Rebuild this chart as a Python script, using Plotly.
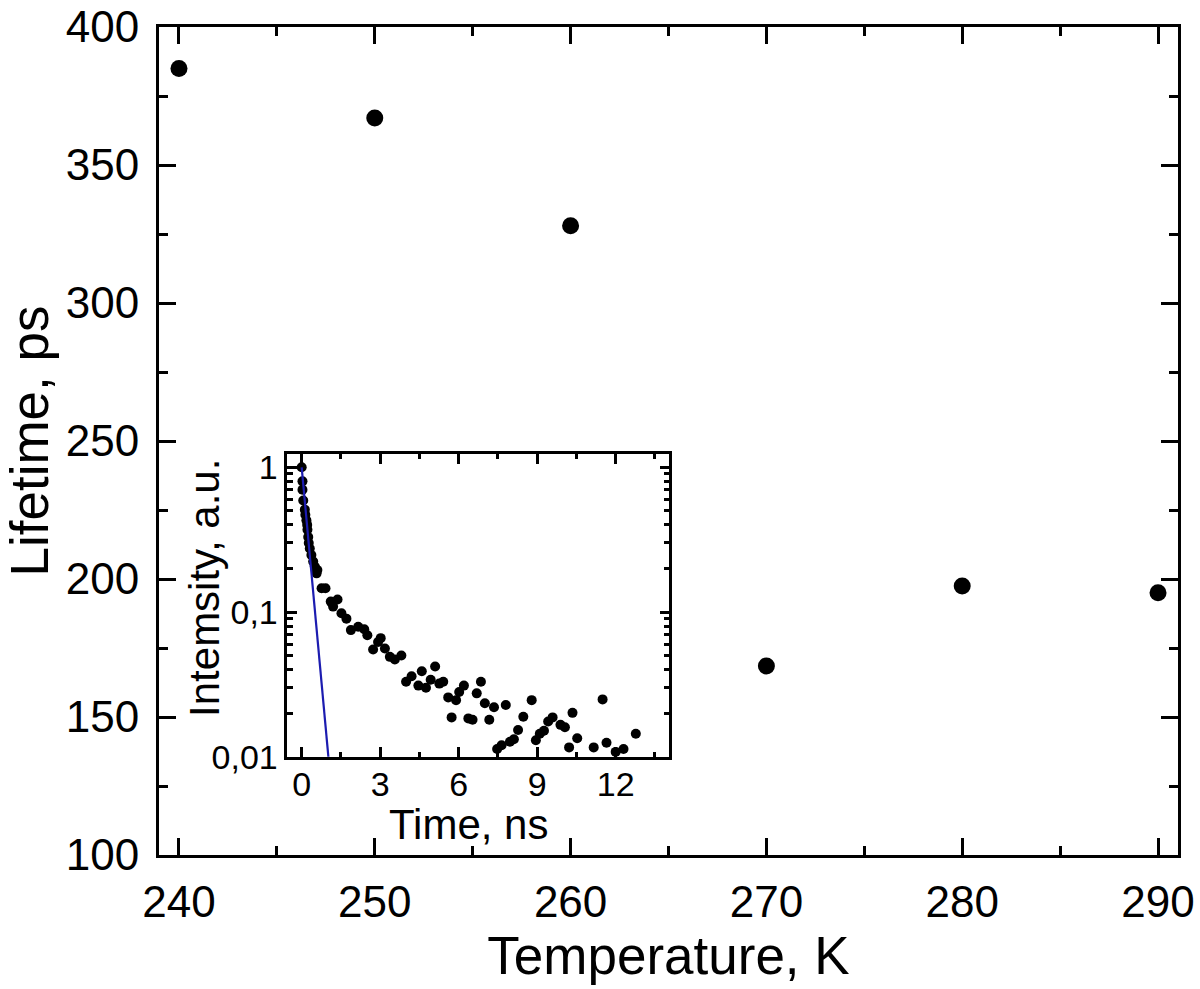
import numpy as np
import plotly.graph_objects as go

# Main data
temperature_K = [240, 250, 260, 270, 280, 290]
lifetime_ps = [385, 367, 328, 168.5, 197.5, 195]

# Inset: decay data
time_ns = [0.0, 0.03, 0.03, 0.06, 0.12, 0.14, 0.18, 0.21, 0.22, 0.25, 0.27, 0.31, 0.37, 0.44, 0.50, 0.60,
           0.57, 0.76, 0.91, 1.11, 1.20, 1.37, 1.52, 1.71, 1.88, 2.16, 2.39, 2.51, 2.73, 2.92, 3.02,
           3.18, 3.37, 3.56, 3.81, 3.99, 4.20, 4.46, 4.59, 4.75, 4.93, 5.10, 5.26, 5.41, 5.60, 5.73,
           5.90, 6.02, 6.20, 6.37, 6.53, 6.69, 6.85, 7.00, 7.17, 7.35, 7.47, 7.64, 7.80, 7.96, 8.11,
           8.27, 8.47, 8.79, 8.95, 9.10, 9.26, 9.42, 9.59, 9.89, 10.06, 10.22, 10.35, 10.53, 11.16,
           11.50, 11.65, 12.00, 12.30, 12.77]
intensity = [1.0, 0.80, 0.70, 0.59, 0.51, 0.47, 0.43, 0.40, 0.37, 0.33, 0.30, 0.275, 0.248, 0.223, 0.206, 0.195,
             0.185, 0.146, 0.146, 0.118, 0.109, 0.122, 0.098, 0.090, 0.075, 0.079, 0.076, 0.069, 0.055, 0.062, 0.066,
             0.056, 0.049, 0.047, 0.050, 0.033, 0.036, 0.031, 0.039, 0.030, 0.034, 0.042, 0.032, 0.033, 0.0257, 0.0187,
             0.0246, 0.028, 0.031, 0.0184, 0.018, 0.0274, 0.033, 0.0234, 0.018, 0.022, 0.0113, 0.012, 0.0228, 0.0127, 0.0132,
             0.0153, 0.0189, 0.0246, 0.013, 0.0144, 0.0151, 0.0175, 0.0187, 0.0166, 0.016, 0.0116, 0.0201, 0.0134, 0.0116,
             0.0249, 0.0125, 0.0108, 0.0113, 0.0144]

# Inset: mono-exponential fit parameters
fit_tau_ns = 0.2215
fit_amp = 1.0
fit_t = np.linspace(0, 1.2, 50)
fit_I = fit_amp * np.exp(-fit_t / fit_tau_ns)

FONT = "Liberation Sans, Arial, sans-serif"

fig = go.Figure()
fig.add_trace(go.Scatter(x=temperature_K, y=lifetime_ps, mode="markers",
                         marker=dict(color="black", size=17), xaxis="x", yaxis="y", showlegend=False))
fig.add_trace(go.Scatter(x=time_ns, y=intensity, mode="markers",
                         marker=dict(color="black", size=10), xaxis="x2", yaxis="y2", showlegend=False))
fig.add_trace(go.Scatter(x=fit_t, y=fit_I, mode="lines",
                         line=dict(color="#1c1cb0", width=2.2), xaxis="x2", yaxis="y2", showlegend=False))

main_axis = dict(showline=True, linecolor="black", linewidth=3, mirror="allticks", ticks="inside",
                 ticklen=17, tickwidth=3, tickcolor="black", showgrid=False, zeroline=False,
                 automargin=False,
                 tickfont=dict(family=FONT, size=44, color="black"))

fig.update_layout(
    width=1200, height=989,
    margin=dict(l=159, r=22, t=27, b=134, autoexpand=False),
    paper_bgcolor="white", plot_bgcolor="white",
    xaxis=dict(main_axis, range=[238.98, 291.02], tickvals=[240, 250, 260, 270, 280, 290],
               minor=dict(ticks="inside", ticklen=9, tickwidth=3, dtick=5, tickcolor="black"),
               ticklabelstandoff=6,
               title=dict(text="Temperature, K", font=dict(family=FONT, size=53, color="black"), standoff=0)),
    yaxis=dict(main_axis, range=[100, 400], tickvals=[100, 150, 200, 250, 300, 350, 400],
               minor=dict(ticks="inside", ticklen=9, tickwidth=3, dtick=25, tickcolor="black"),
               ticklabelstandoff=8,
               title=dict(text="Lifetime, ps", font=dict(family=FONT, size=53, color="black"), standoff=4)),
    xaxis2=dict(domain=[0.1259, 0.5008], anchor="y2", range=[-0.55, 14.05],
                tickvals=[0, 3, 6, 9, 12], showline=True, linecolor="black", linewidth=2.5,
                mirror="allticks", ticks="inside", ticklen=10, tickwidth=2.5, tickcolor="black",
                minor=dict(ticks="inside", ticklen=5, tickwidth=2.5, dtick=1.5, tickcolor="black"),
                showgrid=False, zeroline=False, ticklabelstandoff=-4, automargin=False,
                tickfont=dict(family=FONT, size=34, color="black")),
    yaxis2=dict(domain=[0.1187, 0.4843], anchor="x2", type="log", range=[-2, 0.092],
                tickvals=[0.01, 0.1, 1], ticktext=["0,01", "0,1", "1"],
                showline=True, linecolor="black", linewidth=2.5,
                mirror="allticks", ticks="inside", ticklen=10, tickwidth=2.5, tickcolor="black",
                minor=dict(ticks="inside", ticklen=6, tickwidth=2.5, tickcolor="black", dtick="D1"),
                showgrid=False, zeroline=False, ticklabelstandoff=0, automargin=False,
                tickfont=dict(family=FONT, size=34, color="black")),
    annotations=[
        dict(text="Time, ns", xref="paper", yref="paper", x=0.3042, y=0.037,
             xanchor="center", yanchor="middle", showarrow=False,
             font=dict(family=FONT, size=42, color="black")),
        dict(text="Intemsity, a.u.", xref="paper", yref="paper", x=0.0451, y=0.3225,
             xanchor="center", yanchor="middle", showarrow=False, textangle=-90,
             font=dict(family=FONT, size=42, color="black")),
    ],
)

fig.write_html("out.html", config={"displayModeBar": False},
               post_script="document.body.style.margin='0px';")
